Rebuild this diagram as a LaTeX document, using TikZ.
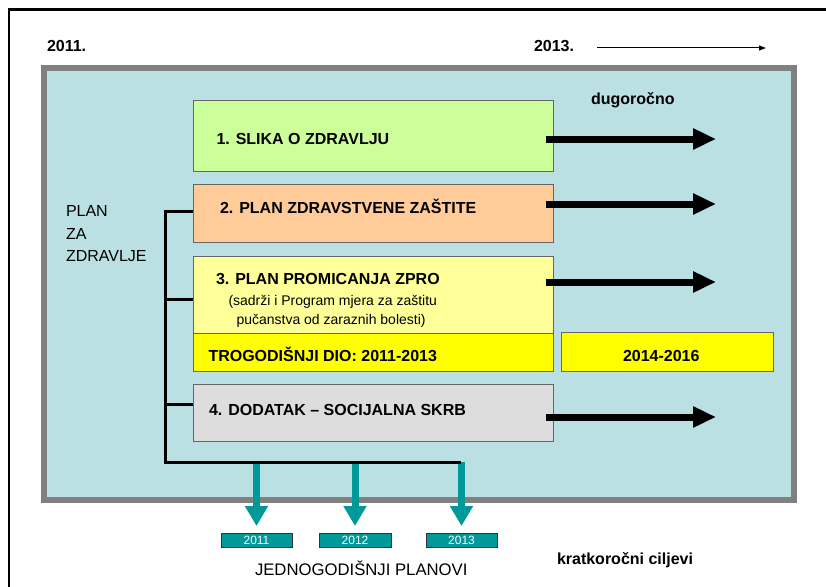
\documentclass[tikz,border=0pt]{standalone}
\usepackage{fontspec}
\setmainfont{Liberation Sans}
\usetikzlibrary{arrows.meta,calc}
\definecolor{bgteal}{HTML}{BBE0E3}
\definecolor{framegray}{HTML}{808080}
\definecolor{cone}{HTML}{CCFF99}
\definecolor{ctwo}{HTML}{FFCC99}
\definecolor{cthree}{HTML}{FFFF99}
\definecolor{cfour}{HTML}{DDDDDD}
\definecolor{cyel}{HTML}{FFFF00}
\definecolor{darkteal}{HTML}{009999}
\definecolor{boxline}{HTML}{666666}
\begin{document}
\begin{tikzpicture}[x=1pt,y=-1pt,
 box/.style={draw=boxline, line width=0.8pt, inner sep=0pt, outer sep=0pt, anchor=north west},
 lbl/.style={inner sep=0pt, outer sep=0pt, anchor=base west, font=\fontsize{16}{19}\selectfont\bfseries},
 lblr/.style={inner sep=0pt, outer sep=0pt, anchor=base west, font=\fontsize{16}{19}\selectfont},
 lbls/.style={inner sep=0pt, outer sep=0pt, anchor=base west, font=\fontsize{14}{17}\selectfont},
 bigarrow/.style={line width=7pt, -{Triangle[length=23pt,width=20pt]}},
 tealarrow/.style={draw=darkteal, line width=7pt, -{Triangle[length=20pt,width=22pt]}, shorten >=7pt},
 bracket/.style={line width=3pt},
 thinarrow/.style={line width=1pt, -{Triangle[length=7pt,width=5pt]}},
 yearbox/.style={draw=black!80, line width=0.8pt, fill=darkteal, text=white, minimum width=71pt, minimum height=14pt, inner sep=0pt, outer sep=0pt, font=\fontsize{12}{14}\selectfont},
]
\useasboundingbox (0,0) rectangle (826,586);
\clip (0,0) rectangle (826,586);
\fill[white] (0,0) rectangle (826,586);
\draw[line width=2.5pt] (9,9.5) rectangle (900,700);

% header
\node[lbl] (y2011) at (47,51.5) {2011.};
\node[lbl] (y2013) at (534,51.5) {2013.};
\coordinate (ta) at (597,48);
\coordinate (tb) at (766,48);
\draw[thinarrow] (ta) -- (tb);

% main panel
\draw[framegray, line width=6pt, fill=bgteal] (44,68) rectangle (794,500);

\node[lbl] (dug) at (591,104) {dugoročno};

% boxes
\node[box, fill=cone, minimum width=360pt, minimum height=71pt] (b1) at (193,100) {};
\node[box, fill=ctwo, minimum width=360pt, minimum height=58pt] (b2) at (193,184) {};
\node[box, fill=cthree, minimum width=360pt, minimum height=77pt] (b3) at (193,256) {};
\node[box, fill=cyel, minimum width=360pt, minimum height=38pt] (tr) at (193,333) {};
\node[box, fill=cyel, minimum width=212pt, minimum height=39pt] (bx) at (561,332) {};
\node[box, fill=cfour, minimum width=360pt, minimum height=57pt] (b4) at (193,384) {};

\node[lbl] (t1) at (216.5,144) {1. SLIKA O ZDRAVLJU};
\node[lbl] (t2) at (220,213.3) {2. PLAN ZDRAVSTVENE ZAŠTITE};
\node[lbl] (t3) at (216,284) {3. PLAN PROMICANJA ZPRO};
\node[lbls] (t3a) at (228.5,305) {(sadrži i Program mjera za zaštitu};
\node[lbls] (t3b) at (236.5,324) {pučanstva od zaraznih bolesti)};
\node[lbl] (ttr) at (208.5,361) {TROGODIŠNJI DIO: 2011-2013};
\node[lbl] (tbx) at (623,361) {2014-2016};
\node[lbl] (t4) at (209,415) {4. DODATAK – SOCIJALNA SKRB};

\node[lblr] (p1) at (66,216.7) {PLAN};
\node[lblr] (p2) at (66,239.5) {ZA};
\node[lblr] (p3) at (66,261) {ZDRAVLJE};

% long-term arrows
\coordinate (e1) at (716,139);
\coordinate (e2) at (716,204);
\coordinate (e3) at (716,282);
\coordinate (e4) at (716,417);
\draw[bigarrow] ($(b1.east |- e1)+(-7,0)$) -- (e1);
\draw[bigarrow] ($(b2.east |- e2)+(-7,0)$) -- (e2);
\draw[bigarrow] ($(b3.east |- e3)+(-7,0)$) -- (e3);
\draw[bigarrow] ($(b4.east |- e4)+(-7,0)$) -- (e4);

% year boxes
\node[yearbox] (g1) at (256.5,540) {2011};
\node[yearbox, minimum width=72pt] (g2) at (355,540) {2012};
\node[yearbox] (g3) at (461.5,540) {2013};

% bracket
\coordinate (jt) at (165,211);
\coordinate (j3) at (165,299);
\coordinate (j4) at (165,404);
\coordinate (jb) at (165,462);
\coordinate (je) at (461,462);

\draw[tealarrow] (g1.north |- jb) -- (g1.north);
\draw[tealarrow] (g2.north |- jb) -- (g2.north);
\draw[tealarrow] (g3.north |- jb) -- (g3.north);

\draw[bracket] (jt -| b2.west) -- (jt) -- (jb) -- (je);
\draw[bracket] (j3) -- (j3 -| b3.west);
\draw[bracket] (j4) -- (j4 -| b4.west);

\node[lblr, font=\fontsize{16.7}{19}\selectfont] (jp) at (255,575) {JEDNOGODIŠNJI PLANOVI};
\node[lbl] (kc) at (557,564) {kratkoročni ciljevi};
\end{tikzpicture}
\end{document}
